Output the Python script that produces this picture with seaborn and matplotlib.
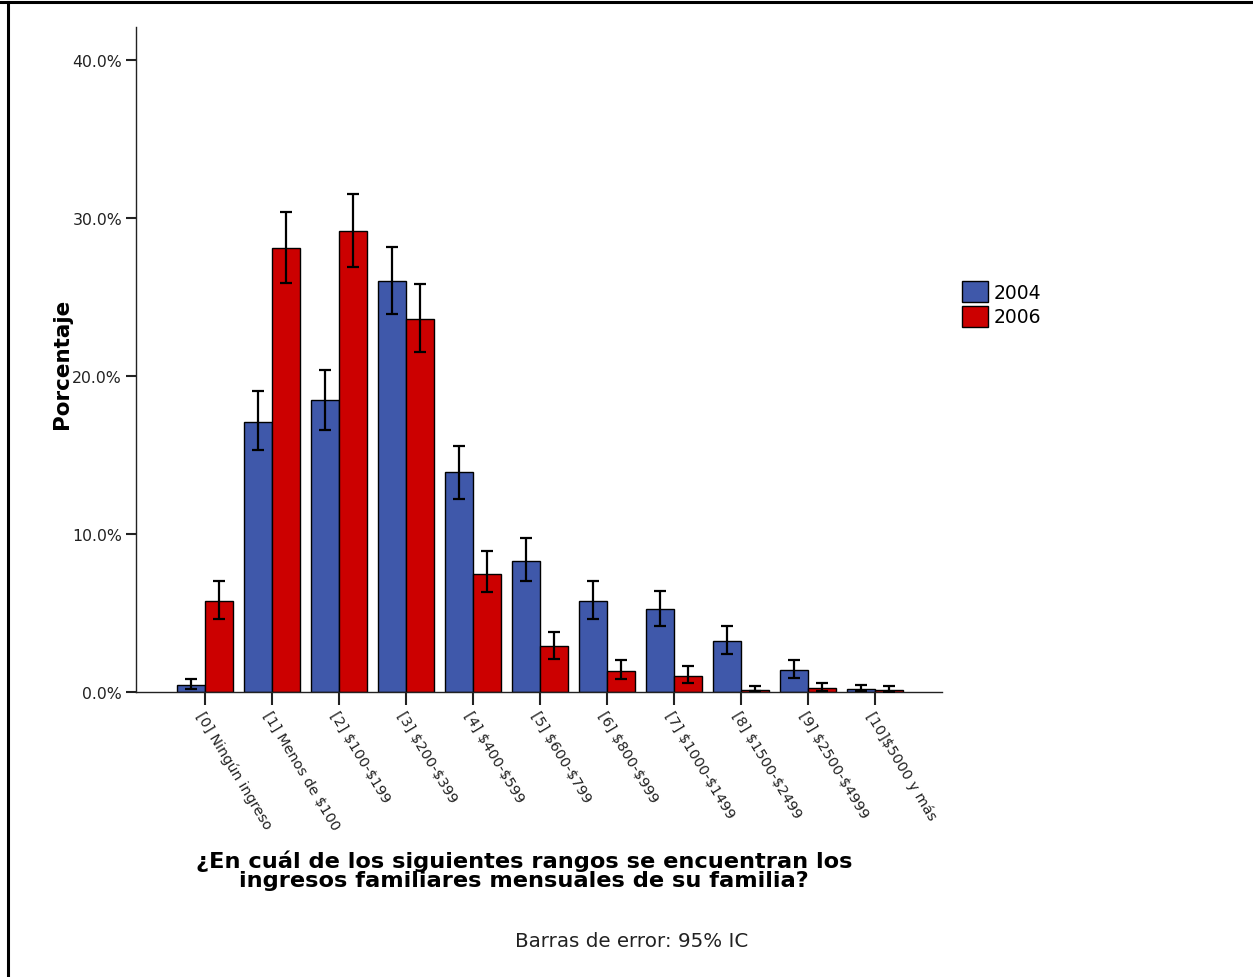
import matplotlib
matplotlib.use("Agg")
import matplotlib.pyplot as plt
import seaborn as sns
import pandas as pd
from matplotlib.lines import Line2D
from matplotlib.patches import Patch
from matplotlib.ticker import FuncFormatter, MultipleLocator

categories = ["[0] Ningún ingreso", "[1] Menos de $100", "[2] $100-$199", "[3] $200-$399",
              "[4] $400-$599", "[5] $600-$799", "[6] $800-$999", "[7] $1000-$1499",
              "[8] $1500-$2499", "[9] $2500-$4999", "[10]$5000 y más"]
years = ["2004", "2006"]
pct_2004 = [0.45, 17.1, 18.5, 26.0, 13.9, 8.3, 5.75, 5.25, 3.2, 1.4, 0.2]
lo_2004 = [0.2, 15.3, 16.6, 23.9, 12.2, 7.0, 4.6, 4.2, 2.4, 0.9, 0.05]
hi_2004 = [0.8, 19.05, 20.4, 28.2, 15.6, 9.75, 7.0, 6.4, 4.2, 2.0, 0.45]
pct_2006 = [5.75, 28.1, 29.2, 23.6, 7.5, 2.9, 1.35, 1.0, 0.15, 0.25, 0.15]
lo_2006 = [4.6, 25.9, 26.9, 21.5, 6.3, 2.1, 0.8, 0.55, 0.05, 0.05, 0.0]
hi_2006 = [7.0, 30.4, 31.5, 25.8, 8.9, 3.8, 2.0, 1.65, 0.4, 0.6, 0.4]
colors = ["#3F58AA", "#CC0000"]

df = pd.DataFrame({
    "cat": categories * 2,
    "year": [years[0]] * len(categories) + [years[1]] * len(categories),
    "pct": pct_2004 + pct_2006,
})

plt.rcParams['font.family'] = ['DejaVu Sans']
plt.rcParams['text.parse_math'] = False
fig = plt.figure(figsize=(12.53, 9.78), dpi=100)
ax = fig.add_axes([136/1253, 1-693/978, (942-136)/1253, (693-28)/978])

sns.barplot(data=df, x="cat", y="pct", hue="year", palette=colors, errorbar=None,
            saturation=1, width=0.84, edgecolor="black", linewidth=1.0, ax=ax, legend=False)

vals = [pct_2004, pct_2006]
los = [lo_2004, lo_2006]
his = [hi_2004, hi_2006]
bar_conts = list(ax.containers)
for ci, cont in enumerate(bar_conts):
    xs = [p.get_x() + p.get_width() / 2 for p in cont.patches]
    v = vals[ci]
    ax.errorbar(xs, v,
                yerr=[[v[i] - los[ci][i] for i in range(len(v))],
                      [his[ci][i] - v[i] for i in range(len(v))]],
                fmt="none", ecolor="black", elinewidth=1.6, capsize=4, capthick=1.6, zorder=5)

ax.set_xlim(-1.03, 11.0)
ax.set_ylim(0, 42.1)
ax.yaxis.set_major_locator(MultipleLocator(10))
ax.yaxis.set_major_formatter(FuncFormatter(lambda val, p: f"{val:.1f}%"))
for s in ["top", "right"]:
    ax.spines[s].set_visible(False)
for s in ["left", "bottom"]:
    ax.spines[s].set_color("#222222")
    ax.spines[s].set_linewidth(1.0)
ax.tick_params(axis="y", length=7, width=1.5, labelsize=11.3, colors="#222222", pad=3)
ax.tick_params(axis="x", length=9, width=1.5, labelsize=10.4, colors="#222222", pad=3)
ax.set_xticks(range(len(categories)))
ax.set_xticklabels(categories, rotation=-59, ha="left", va="top", rotation_mode="anchor")
ax.set_xlabel("")
ax.set_ylabel("Porcentaje", fontsize=15.5, fontweight="bold")
ax.yaxis.set_label_coords(-0.080, 0.495)

handles = [Patch(facecolor=colors[0], edgecolor="black", linewidth=1.0, label="2004"),
           Patch(facecolor=colors[1], edgecolor="black", linewidth=1.0, label="2006")]
fig.legend(handles=handles, loc="upper left", bbox_to_anchor=(962/1253, 1-282/978),
           frameon=False, fontsize=13.5, handlelength=1.39, handleheight=1.33,
           labelspacing=0.21, handletextpad=0.27, borderpad=0, borderaxespad=0)

fig.text(524/1253, 1-871/978,
         "¿En cuál de los siguientes rangos se encuentran los\ningresos familiares mensuales de su familia?",
         ha="center", va="center", fontsize=16.2, fontweight="bold", linespacing=0.93)
fig.text(632/1253, 1-942/978, "Barras de error: 95% IC", ha="center", va="center",
         fontsize=14.3, color="#222222")

fig.add_artist(Line2D([0, 1], [1-3/978, 1-3/978], transform=fig.transFigure, color="black", linewidth=2.2))
fig.add_artist(Line2D([8/1253, 8/1253], [0, 1-3/978], transform=fig.transFigure, color="black", linewidth=2.2))

fig.savefig("out.png", dpi=100)
